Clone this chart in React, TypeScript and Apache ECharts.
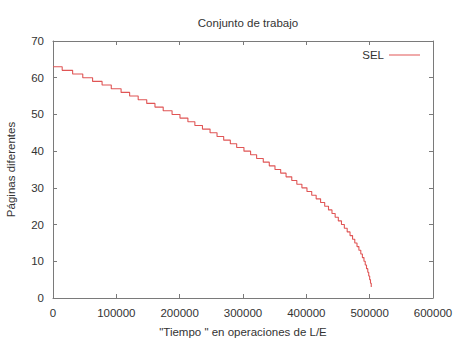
import React, { useEffect, useRef } from "react";
import * as echarts from "echarts";

const titleText = "Conjunto de trabajo";
const xAxisName = "\"Tiempo \" en operaciones de L/E";
const yAxisName = "Páginas diferentes";
const seriesName = "SEL";

// x position (operations) where each level of distinct pages starts
const stepX = [
  0, 14500, 31000, 47000, 62500, 77500, 92000, 107500, 121000, 134500,
  148000, 161000, 174000, 188000, 200500, 213000, 224000, 236000, 248000, 259000,
  269500, 280000, 290000, 301500, 312000, 321500, 332000, 341500, 350500, 359500,
  368000, 377000, 385000, 393000, 401000, 408500, 415500, 422500, 429000, 435000,
  440500, 445500, 450500, 455500, 460000, 464500, 469000, 473000, 476500, 480000,
  483000, 486000, 488500, 491000, 493000, 495000, 497000, 498500, 500000, 501300,
  502500,
];
const stepPages = [
  63, 62, 61, 60, 59, 58, 57, 56, 55, 54,
  53, 52, 51, 50, 49, 48, 47, 46, 45, 44,
  43, 42, 41, 40, 39, 38, 37, 36, 35, 34,
  33, 32, 31, 30, 29, 28, 27, 26, 25, 24,
  23, 22, 21, 20, 19, 18, 17, 16, 15, 14,
  13, 12, 11, 10, 9, 8, 7, 6, 5, 4,
  3,
];

const FONT = "Liberation Sans, Arial, sans-serif";
const TEXT = "#333333";
const AXIS = "#7a7a7a";
const RED = "#e05555";

export default function App() {
  const ref = useRef<HTMLDivElement>(null);
  useEffect(() => {
    if (!ref.current) return;
    const chart = echarts.init(ref.current, undefined, { renderer: "svg" });
    const data = stepX.map((x, i) => [x, stepPages[i]]);
    const axisCommon = {
      axisLine: { show: true, onZero: false, lineStyle: { color: AXIS, width: 1 } },
      axisTick: { show: true, inside: true, length: 4, lineStyle: { color: AXIS } },
      splitLine: { show: false },
    };
    chart.setOption({
      animation: false,
      backgroundColor: "#ffffff",
      title: {
        text: titleText,
        left: 243,
        textAlign: "center",
        top: 12,
        textStyle: { fontFamily: FONT, fontSize: 11.5, fontWeight: "normal", color: TEXT },
      },
      legend: {
        data: [seriesName],
        right: 33,
        top: 44,
        align: "right",
        icon: "rect",
        itemWidth: 31,
        itemHeight: 1,
        itemGap: 12,
        textStyle: { fontFamily: FONT, fontSize: 11.5, color: TEXT },
      },
      grid: { left: 53, right: 25, top: 41, bottom: 47, containLabel: false, outerBoundsMode: "none" },
      xAxis: [
        {
          type: "value",
          min: 0,
          max: 600000,
          interval: 100000,
          position: "bottom",
          name: xAxisName,
          nameLocation: "middle",
          nameGap: 28,
          nameTextStyle: { fontFamily: FONT, fontSize: 11.5, color: TEXT },
          axisLabel: { fontFamily: FONT, fontSize: 11.5, color: TEXT, margin: 9, formatter: (v: number) => String(v) },
          ...axisCommon,
        },
        {
          type: "value",
          min: 0,
          max: 600000,
          interval: 100000,
          position: "top",
          axisLabel: { show: false },
          ...axisCommon,
        },
      ],
      yAxis: [
        {
          type: "value",
          min: 0,
          max: 70,
          interval: 10,
          position: "left",
          name: yAxisName,
          nameLocation: "middle",
          nameGap: 36,
          nameTextStyle: { fontFamily: FONT, fontSize: 11.5, color: TEXT },
          axisLabel: { fontFamily: FONT, fontSize: 11.5, color: TEXT, margin: 9 },
          ...axisCommon,
        },
        {
          type: "value",
          min: 0,
          max: 70,
          interval: 10,
          position: "right",
          axisLabel: { show: false },
          ...axisCommon,
        },
      ],
      series: [
        {
          name: seriesName,
          type: "line",
          step: "end",
          data,
          showSymbol: false,
          symbol: "none",
          itemStyle: { color: RED },
          lineStyle: { color: RED, width: 1.1 },
        },
      ],
    });
    return () => chart.dispose();
  }, []);
  return <div ref={ref} style={{ width: 458, height: 345, position: "absolute", left: 0, top: 0 }} />;
}
